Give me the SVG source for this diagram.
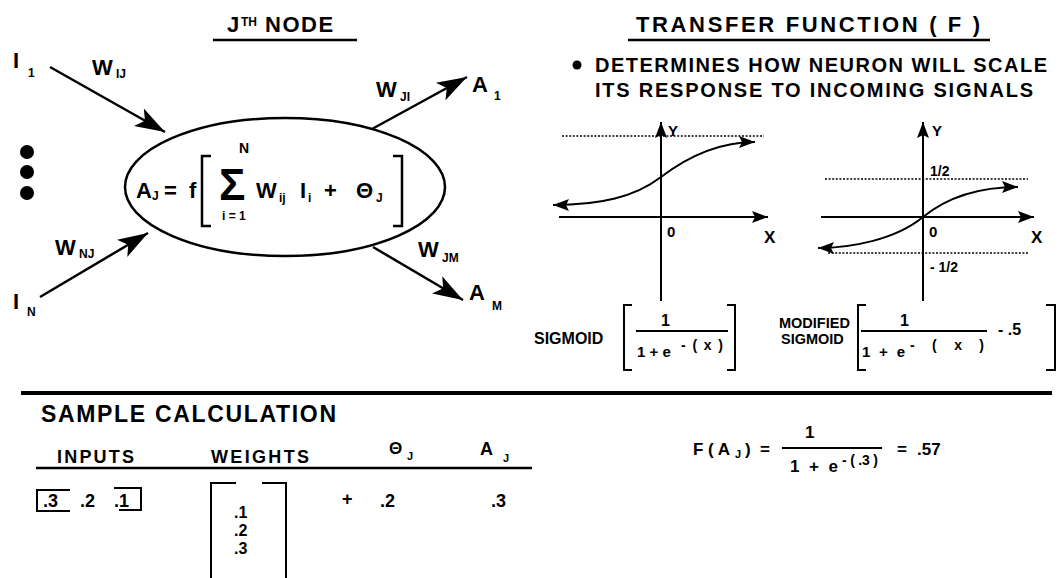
<svg xmlns="http://www.w3.org/2000/svg" width="1062" height="578" viewBox="0 0 1062 578">
<style>
text{font-family:"Liberation Sans",Arial,Helvetica,sans-serif;font-weight:bold;fill:#000}
.t{font-size:22px}
.lb{font-size:22px}
.sub{font-size:12px}
.m{font-size:17px}
.n{font-size:18px}
.s{font-size:15px}
.ln{stroke:#000;stroke-width:2.5;fill:none}
.ax{stroke:#000;stroke-width:2;fill:none}
.dot{stroke:#000;stroke-width:1.3;stroke-dasharray:2 1.6;fill:none}
</style>
<defs>
<marker id="big" markerUnits="userSpaceOnUse" markerWidth="32" markerHeight="24" refX="30" refY="12" orient="auto">
<path d="M0,2 L30,12 L0,22 L7,12 z" fill="#000"/>
</marker>
<marker id="sm" markerUnits="userSpaceOnUse" markerWidth="18" markerHeight="14" refX="16" refY="7" orient="auto-start-reverse">
<path d="M0,1 L16,7 L0,13 L3,7 z" fill="#000"/>
</marker>
</defs>
<rect width="1062" height="578" fill="#fff"/>

<g id="title-node">
<text x="227" y="32" class="t">J</text>
<text x="241" y="26" font-size="12">TH</text>
<text x="265" y="32" class="t" letter-spacing="1.5">NODE</text>
<line x1="213" y1="40" x2="357" y2="40" class="ln"/>
</g>

<g id="input-1">
<text x="13" y="68" class="lb">I</text><text x="28" y="77" class="sub">1</text>
<text x="92" y="75" class="lb">W</text><text x="116" y="78" class="sub">IJ</text>
</g>
<g id="dots">
<circle cx="27" cy="152" r="7"/><circle cx="27" cy="172" r="7"/><circle cx="27" cy="193" r="7"/>
</g>
<g id="input-n">
<text x="55" y="255" class="lb">W</text><text x="79" y="258" class="sub">NJ</text>
<text x="13" y="309" class="lb">I</text><text x="27" y="316" class="sub">N</text>
</g>

<g id="node-j">
<ellipse cx="285" cy="187" rx="160" ry="69" class="ln"/>
<text x="136" y="198" class="lb">A</text><text x="152" y="200" class="sub">J</text>
<text x="164" y="198" class="lb">=</text>
<text x="189" y="198" class="lb">f</text>
<path d="M211,156 L202,156 L202,226 L211,226" class="ln"/>
<text x="219" y="200" font-size="44">Σ</text>
<text x="239" y="153" font-size="14">N</text>
<text x="222" y="220" font-size="12">i = 1</text>
<text x="256" y="198" class="lb">W</text><text x="279" y="202" class="sub">ij</text>
<text x="300" y="198" class="lb">I</text><text x="308" y="202" class="sub">i</text>
<text x="324" y="198" class="lb">+</text>
<text x="356" y="198" class="lb">Θ</text><text x="376" y="202" class="sub">J</text>
<path d="M393,156 L402,156 L402,226 L393,226" class="ln"/>
</g>

<g id="output-1">
<text x="376" y="97" class="lb">W</text><text x="400" y="101" class="sub">JI</text>
<text x="472" y="92" class="lb">A</text><text x="494" y="100" class="sub">1</text>
</g>
<g id="output-m">
<text x="418" y="257" class="lb">W</text><text x="442" y="262" class="sub">JM</text>
<text x="469" y="300" class="lb">A</text><text x="492" y="310" class="sub">M</text>
</g>

<g id="connectors">
<line x1="50" y1="67" x2="165" y2="132" class="ln" marker-end="url(#big)"/>
<line x1="40" y1="297" x2="148" y2="233" class="ln" marker-end="url(#big)"/>
<line x1="372" y1="129" x2="467" y2="77" class="ln" marker-end="url(#big)"/>
<line x1="373" y1="247" x2="463" y2="300" class="ln" marker-end="url(#big)"/>
</g>

<g id="title-transfer">
<text x="636" y="32" class="t" textLength="344" lengthAdjust="spacing">TRANSFER FUNCTION ( F )</text>
<line x1="628" y1="40" x2="990" y2="40" class="ln"/>
<circle cx="577" cy="65" r="4.5"/>
<text x="595" y="72" font-size="20" textLength="452" lengthAdjust="spacing">DETERMINES HOW NEURON WILL SCALE</text>
<text x="595" y="97" font-size="20" textLength="438" lengthAdjust="spacing">ITS RESPONSE TO INCOMING SIGNALS</text>
</g>

<g id="graph-sigmoid">
<line x1="562" y1="136" x2="764" y2="136" class="dot"/>
<line x1="661" y1="301" x2="661" y2="122" class="ax" marker-end="url(#sm)"/>
<line x1="559" y1="217" x2="768" y2="217" class="ax" marker-end="url(#sm)"/>
<path d="M553,205 C600,205 635,197 661,177 C690,155 720,142 755,142" class="ax" marker-start="url(#sm)" marker-end="url(#sm)"/>
<text x="668" y="136" class="s">Y</text>
<text x="667" y="237" class="s">0</text>
<text x="764" y="243" class="m">X</text>
</g>

<g id="graph-modified">
<line x1="825" y1="179" x2="1028" y2="179" class="dot"/>
<line x1="828" y1="253" x2="1028" y2="253" class="dot"/>
<line x1="923" y1="301" x2="923" y2="122" class="ax" marker-end="url(#sm)"/>
<line x1="821" y1="217" x2="1034" y2="217" class="ax" marker-end="url(#sm)"/>
<path d="M818,248 C850,248 895,240 923,217 C950,195 985,187 1018,187" class="ax" marker-start="url(#sm)" marker-end="url(#sm)"/>
<text x="932" y="136" class="s">Y</text>
<text x="930" y="176" font-size="14">1/2</text>
<text x="929" y="237" class="s">0</text>
<text x="1031" y="243" class="m">X</text>
<text x="930" y="272" font-size="14">- 1/2</text>
</g>

<g id="formula-sigmoid">
<text x="534" y="344" font-size="16">SIGMOID</text>
<path d="M632,305 L624,305 L624,370 L632,370" class="ax"/>
<text x="661" y="326" font-size="16">1</text>
<line x1="636" y1="331" x2="728" y2="331" class="ax"/>
<text x="637" y="357" font-size="15">1 + e</text>
<text x="681" y="350" font-size="14" textLength="42" lengthAdjust="spacing">- ( x )</text>
<path d="M727,305 L735,305 L735,370 L727,370" class="ax"/>
</g>

<g id="formula-modified">
<text x="779" y="328" font-size="14.5">MODIFIED</text>
<text x="781" y="344" font-size="14.5">SIGMOID</text>
<path d="M866,305 L858,305 L858,370 L866,370" class="ax"/>
<text x="900" y="326" font-size="16">1</text>
<line x1="861" y1="331" x2="987" y2="331" class="ax"/>
<text x="862" y="357" font-size="15" textLength="43" lengthAdjust="spacing">1 + e</text>
<text x="910" y="350" font-size="14" textLength="74" lengthAdjust="spacing">-  ( x )</text>
<text x="998" y="335" font-size="16">- .5</text>
<path d="M1046,305 L1055,305 L1055,370 L1046,370" class="ax"/>
</g>

<line id="divider" x1="21" y1="393" x2="1052" y2="393" stroke="#000" stroke-width="4"/>

<g id="sample">
<text x="41" y="422" font-size="23" textLength="295" lengthAdjust="spacing">SAMPLE CALCULATION</text>
<text x="57" y="463" class="n" textLength="77" lengthAdjust="spacing">INPUTS</text>
<text x="211" y="463" class="n" textLength="98" lengthAdjust="spacing">WEIGHTS</text>
<text x="389" y="454" class="m">Θ</text><text x="407" y="460" font-size="11">J</text>
<text x="480" y="455" class="n">A</text><text x="503" y="462" font-size="11">J</text>
<line x1="36" y1="468" x2="532" y2="468" class="ln"/>
<path d="M70,490 L37,490 L37,511 L70,511" class="ax" stroke-width="1.6"/>
<text x="43" y="507" class="n">.3</text>
<text x="80" y="507" class="n">.2</text>
<text x="114" y="507" class="n">.1</text>
<path d="M114,488 L141,488 L141,510 L119,510" class="ax" stroke-width="1.6"/>
<path d="M236,483 L211,483 L211,580" class="ax"/>
<path d="M262,483 L286,483 L286,580" class="ax"/>
<text x="234" y="518" font-size="16">.1</text>
<text x="234" y="536" font-size="16">.2</text>
<text x="234" y="554" font-size="16">.3</text>
<text x="342" y="505" class="n">+</text>
<text x="380" y="507" class="n">.2</text>
<text x="491" y="507" class="n">.3</text>
</g>

<g id="result">
<text x="693" y="455" class="m">F ( A</text><text x="735" y="458" font-size="11">J</text><text x="745" y="455" class="m">)</text>
<text x="760" y="455" class="m">=</text>
<text x="805" y="438" class="m">1</text>
<line x1="782" y1="448" x2="882" y2="448" class="ax"/>
<text x="790" y="472" class="m" textLength="48" lengthAdjust="spacing">1 + e</text>
<text x="842" y="465" font-size="14" textLength="36" lengthAdjust="spacing">- ( .3 )</text>
<text x="897" y="455" class="m">=</text>
<text x="917" y="455" class="m">.57</text>
</g>
</svg>
